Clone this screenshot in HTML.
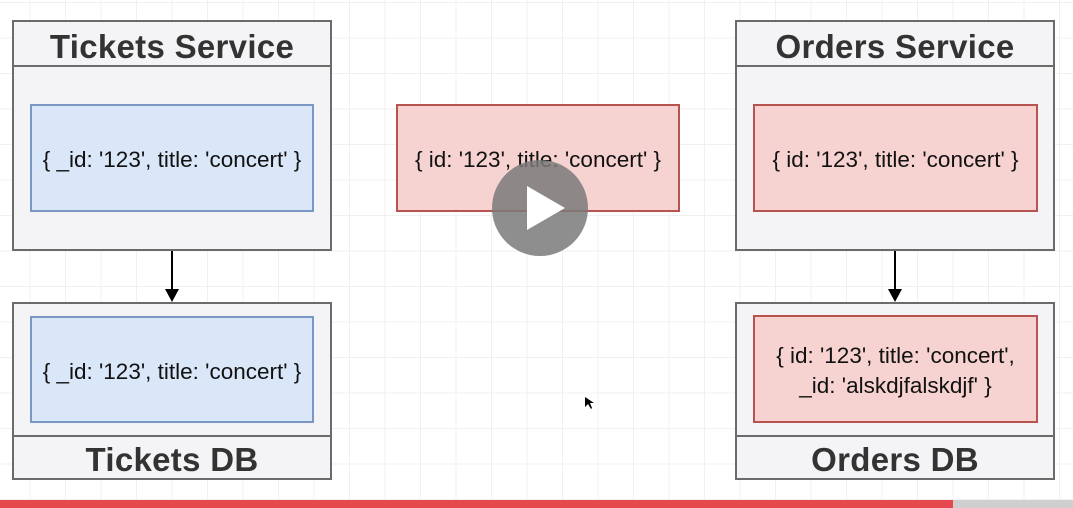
<!DOCTYPE html>
<html><head><style>
body{margin:0;width:1073px;height:508px;overflow:hidden;background:#fff;
background-image:linear-gradient(#f0f0f0 1px,transparent 1px),linear-gradient(90deg,#f0f0f0 1px,transparent 1px);
background-size:35.5px 35.5px;background-position:-6px 2px;font-family:"Liberation Sans",Arial,sans-serif;position:relative}
.box{position:absolute;background:#f4f3f6;border:2px solid #6b6b6b;box-sizing:border-box}
.hd{position:absolute;left:-20px;right:-20px;font-weight:bold;font-size:33px;color:#333;text-align:center;letter-spacing:0.3px}
.ln{position:absolute;left:0;right:0;height:2px;background:#6b6b6b}
.in{position:absolute;box-sizing:border-box;display:flex;align-items:center;justify-content:center;text-align:center;font-size:22.5px;color:#111;line-height:30px;padding-top:4px;white-space:nowrap}
.b{background:#dae7f8;border:2px solid #7b97c6}
.p{background:#f6d3d0;border:2px solid #b85450}
</style></head><body>
<div class="box" style="left:12px;top:20px;width:320px;height:231px">
<div class="hd" style="top:6px">Tickets Service</div><div class="ln" style="top:43px"></div></div>
<div class="in b" style="left:30px;top:104px;width:284px;height:108px">{ _id: '123', title: 'concert' }</div>

<div class="box" style="left:12px;top:302px;width:320px;height:178px">
<div class="ln" style="top:131px"></div><div class="hd" style="top:137px">Tickets DB</div></div>
<div class="in b" style="left:30px;top:316px;width:284px;height:107px">{ _id: '123', title: 'concert' }</div>

<div class="in p" style="left:396px;top:104px;width:284px;height:108px">{ id: '123', title: 'concert' }</div>

<div class="box" style="left:735px;top:20px;width:320px;height:231px">
<div class="hd" style="top:6px">Orders Service</div><div class="ln" style="top:43px"></div></div>
<div class="in p" style="left:753px;top:104px;width:285px;height:108px">{ id: '123', title: 'concert' }</div>

<div class="box" style="left:735px;top:302px;width:320px;height:178px">
<div class="ln" style="top:131px"></div><div class="hd" style="top:137px">Orders DB</div></div>
<div class="in p" style="left:753px;top:315px;width:285px;height:108px">{ id: '123', title: 'concert',<br>_id: 'alskdjfalskdjf' }</div>

<svg width="1073" height="508" style="position:absolute;left:0;top:0">
<line x1="172" y1="251" x2="172" y2="292" stroke="#000" stroke-width="2"/>
<polygon points="165,289 179,289 172,302" fill="#000"/>
<line x1="895" y1="251" x2="895" y2="292" stroke="#000" stroke-width="2"/>
<polygon points="888,289 902,289 895,302" fill="#000"/>
<circle cx="540" cy="208" r="48" fill="#7a7a7a" fill-opacity="0.85"/>
<polygon points="527,186 527,230 565,208" fill="#fff"/>
<polygon points="585,397 585,407 588,404 591,409 592,408 590,403 594,403" fill="#000"/>
<rect x="0" y="500" width="953" height="8" fill="#e5484d"/>
<rect x="953" y="500" width="120" height="8" fill="#cfcfd2"/>
</svg>
</body></html>
